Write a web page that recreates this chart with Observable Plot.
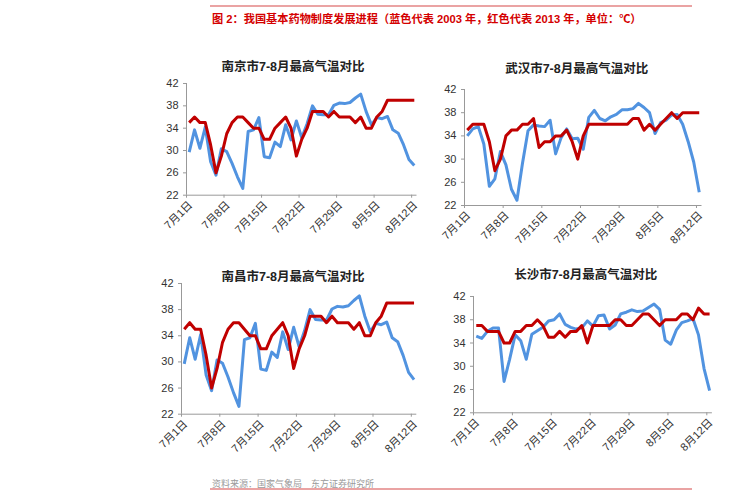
<!DOCTYPE html>
<html>
<head>
<meta charset="utf-8">
<script src="https://cdn.jsdelivr.net/npm/d3@7"></script>
<script src="https://cdn.jsdelivr.net/npm/@observablehq/plot@0.6"></script>
<style>
  html, body { margin: 0; padding: 0; background: #fff; }
  body { width: 741px; height: 500px; position: relative; overflow: hidden;
         font-family: "Liberation Sans", Arial, "Noto Sans CJK SC", sans-serif; }
  .abs { position: absolute; }
  .title { position: absolute; transform: translate(-50%, -50%); white-space: nowrap;
           font-size: 12.5px; font-weight: bold; color: #222; }
  .hdr { position: absolute; left: 212px; top: 10px; font-size: 11.2px; font-weight: bold;
         color: #d40000; white-space: nowrap; }
  .src { position: absolute; left: 212px; top: 477px; font-size: 9px; color: #9a9a9a; white-space: nowrap; }
  .rule { position: absolute; height: 2px; background: #eaa3a3; }
</style>
</head>
<body>
<div class="rule" style="left:210px; top:5px; width:482px;"></div>
<div class="hdr">图 2：我国基本药物制度发展进程（蓝色代表 2003 年，红色代表 2013 年，单位：℃）</div>
<div class="src">资料来源：国家气象局　东方证券研究所</div>
<div class="rule" style="left:210px; top:488px; width:482px;"></div>
<script>
// ---- data ----
const cities = ["南京市", "武汉市", "南昌市", "长沙市"];
const titleSuffix = "7-8月最高气温对比";
const tickLabels = ["7月1日", "7月8日", "7月15日", "7月22日", "7月29日", "8月5日", "8月12日"];
const tickDayIndex = [0, 7, 14, 21, 28, 35, 42];
const yTicks = [22, 26, 30, 34, 38, 42];

// daily maximum temperature, 7/1 .. 8/12 (blue = 2003, red = 2013)
const nanjing2003 = [29.7,33.7,30.4,34.2,28,25.6,30.3,29.8,27.7,25.3,23.2,33.4,33.7,35.9,28.9,28.7,31.5,30.7,34.6,31.9,35.3,32.3,34.8,38,36.5,36.4,36.4,38.1,38.5,38.4,38.6,39.4,40.1,37,34.6,35.9,35.7,36.1,33.7,33.1,31,28.4,27.3];
const nanjing2013 = [35,36,35,35,31,26,29,33,35,36,36,35,34,34,32,32,34,35,36,34,29,32,34,37,37,37,36,37,36,36,36,35,36,34,34,36,37,39,39,39,39,39,39];
const wuhan2003 = [34,35.2,35.6,32.6,25.3,26.6,31.3,29,24.8,22.9,29.3,34.9,35.9,35.7,35.6,36.7,30.9,33.7,35.2,33.5,33.6,31.7,37.2,38.4,37,36.6,37.3,37.7,38.5,38.5,38.7,39.6,38.9,38,34.4,36.3,36.7,37.6,37.7,36,33,29.5,24.3];
const wuhan2013 = [35,36,36,36,33,28,30,34,35,35,36,36,37,32,33,33,34,34,35,33,30,34,36,36,36,36,36,36,36,36,37,37,35,36,35,36,37,38,37,38,38,38,38];
const nanchang2003 = [29.7,33.7,30.4,34.2,28,25.6,30.3,29.8,27.7,25.3,23.2,33.4,33.7,35.9,28.9,28.7,31.5,30.7,34.6,31.9,35.3,32.3,34.8,38,36.5,36.4,36.4,38.1,38.5,38.4,38.6,39.4,40.1,37,34.6,35.9,35.7,36.1,33.7,33.1,31,28.4,27.3];
const nanchang2013 = [35,36,35,35,31,26,29,33,35,36,36,35,34,34,32,32,34,35,36,34,29,32,34,37,37,37,36,37,36,36,36,35,36,34,34,36,37,39,39,39,39,39,39];
const changsha2003 = [35.2,34.8,36,36.6,36.6,27.4,31.2,35.4,34.4,31.2,35.5,36.1,36.7,37.8,38,39,37.2,36.7,36.4,36.6,37.8,36.9,38.7,38.8,36.4,37.1,39,39.3,39.7,39.4,39.5,40.1,40.7,39.8,34.5,33.8,36.2,37.5,37.8,38.2,35.4,29.6,25.8];
const changsha2013 = [37,37,36,36,36,34,34,36,36,37,37,38,37,35,35,36,35,36,36,37,34,37,37,37,37,38,38,37,37,38,39,39,38,37,38,38,38,39,39,38,40,39,39];

const seriesByCity = [
  [nanjing2003, nanjing2013],
  [wuhan2003, wuhan2013],
  [nanchang2003, nanchang2013],
  [changsha2003, changsha2013]
];
const colorBlue = "#5193e0";
const colorRed = "#c00000";

// ---- layout (page pixels of each plot frame) ----
const frames = [
  {x0: 186,   x1: 416.5, yTop: 83.3,  yBot: 195,   tx: 293,   ty: 65},
  {x0: 464.3, x1: 701.8, yTop: 89.3,  yBot: 205.3, tx: 576.7, ty: 66.7},
  {x0: 180.7, x1: 416,   yTop: 283.3, yBot: 414,   tx: 293,   ty: 275},
  {x0: 472.7, x1: 711.6, yTop: 295.7, yBot: 412,   tx: 585.7, ty: 273.3}
];

const DAY = 864e5;
const start = Date.UTC(2013, 6, 1);
const nDays = nanjing2003.length;
const dayDate = i => new Date(start + i * DAY);
const tickDates = tickDayIndex.map(dayDate);
const labelOf = new Map(tickDates.map((d, k) => [+d, tickLabels[k]]));

frames.forEach((f, ci) => {
  const [blue, red] = seriesByCity[ci];
  const rows = [];
  blue.forEach((v, i) => rows.push({date: new Date(start + i * DAY + DAY / 2), v, s: "2003"}));
  red.forEach((v, i) => rows.push({date: new Date(start + i * DAY + DAY / 2), v, s: "2013"}));

  const left = f.x0 - 50, top = f.yTop - 8;
  const mL = 50, mT = 8, mR = 10, mB = 55;
  const W = mL + (f.x1 - f.x0) + mR;
  const H = mT + (f.yBot - f.yTop) + mB;

  const chart = Plot.plot({
    width: W, height: H,
    marginLeft: mL, marginTop: mT, marginRight: mR, marginBottom: mB,
    style: {fontFamily: '"Liberation Sans", Arial, "Noto Sans CJK SC", sans-serif', fontSize: "11px", color: "#333", background: "transparent", overflow: "visible"},
    x: {type: "utc", domain: [dayDate(0), dayDate(nDays)]},
    y: {domain: [22, 42]},
    color: {domain: ["2003", "2013"], range: [colorBlue, colorRed]},
    marks: [
      Plot.axisY({ticks: yTicks, tickSize: 3, tickPadding: 5, label: null, stroke: "#999"}),
      Plot.axisX({ticks: tickDates, tickFormat: () => "", tickSize: 3, label: null, stroke: "#999"}),
      Plot.axisX({ticks: tickDates, tickFormat: d => labelOf.get(+d), tickRotate: -45, tickSize: 0, tickPadding: 5, label: null, dx: 4, dy: 3}),
      Plot.ruleY([22], {stroke: "#999", strokeWidth: 1}),
      Plot.ruleX([dayDate(0)], {stroke: "#999", strokeWidth: 1}),
      Plot.line(rows, {x: "date", y: "v", z: "s", stroke: "s", strokeWidth: 3, strokeLinejoin: "round", strokeLinecap: "butt"})
    ]
  });
  chart.classList.add("abs");
  chart.style.left = left + "px";
  chart.style.top = top + "px";
  document.body.appendChild(chart);

  const t = document.createElement("div");
  t.className = "title";
  t.style.left = f.tx + "px";
  t.style.top = f.ty + "px";
  t.textContent = cities[ci] + titleSuffix;
  document.body.appendChild(t);
});
</script>
</body>
</html>
